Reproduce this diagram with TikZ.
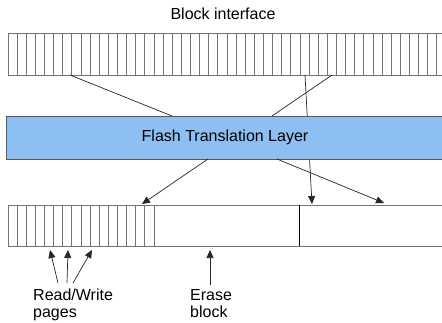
\documentclass[tikz,border=0pt]{standalone}
\usepackage{fontspec}
\setmainfont{Liberation Sans}
\usetikzlibrary{arrows.meta}
\definecolor{ftlblue}{HTML}{8DBFF2}
\definecolor{cellgray}{HTML}{757575}

\begin{document}
\begin{tikzpicture}[x=1pt,y=-1pt,
  cellline/.style={cellgray, line width=0.8pt},
  link/.style={line width=0.7pt, black!85},
  arr/.style={link, -{Triangle[length=8pt,width=7pt]}},
  lbl/.style={font=\fontsize{16}{17}\selectfont, inner sep=0pt}]
\useasboundingbox (0,0) rectangle (442,322);
\def\w{9.125}
% a strip of cells: #1 = top, #2 = bottom, #3 = number of cells
\newcommand{\cellrow}[3]{
  \draw[cellline] (450,#1) -- (8,#1) -- (8,#2) -- (450,#2);
  \foreach \i in {1,...,#3} {
    \draw[cellline] (8+\i*\w,#1) -- (8+\i*\w,#2);
  }
}

% block interface on top
\node[lbl] (bi) at (223,14) {Block interface};
\cellrow{33}{75}{47}

% flash pages and erase blocks below
\cellrow{205}{246}{16}
\draw[line width=1pt] (299,205) -- (299,246);

% end points of the mapping lines
\coordinate (t1) at (70,75);
\coordinate (t2) at (332,75);
\coordinate (t3) at (305,75);
\coordinate (f1) at (172,116);
\coordinate (f2) at (272,116);
\coordinate (f3) at (208,159);
\coordinate (f4) at (277,159);
\coordinate (b1) at (142,204);
\coordinate (b2) at (312,204);
\coordinate (b3) at (384,203);

% this one passes behind the layer
\draw[arr] (t3) -- (b2);

\node[draw=black!65, line width=0.8pt, fill=ftlblue, minimum width=438pt,
  minimum height=43pt, inner sep=0pt, font=\fontsize{16}{18}\selectfont]
  (ftl) at (225,137.5) {Flash Translation Layer};

\draw[link] (t1) -- (f1);
\draw[link] (t2) -- (f2);
\draw[arr] (f3) -- (b1);
\draw[arr] (f4) -- (b3);

% labels at the bottom
\node[lbl, align=left, anchor=north west] (rw) at (33,289) {Read/Write\\pages};
\node[lbl, align=left, anchor=north west] (eb) at (190,289) {Erase\\block};

\coordinate (r1) at (58,283);
\coordinate (r2) at (67,283);
\coordinate (r3) at (73,283);
\coordinate (e1) at (210,285);
\coordinate (p1) at (50,250);
\coordinate (p2) at (68,250);
\coordinate (p3) at (92,250);
\coordinate (p4) at (210,250);
\foreach \s/\e in {r1/p1,r2/p2,r3/p3,e1/p4} {
  \draw[arr] (\s) -- (\e);
}
\end{tikzpicture}
\end{document}
